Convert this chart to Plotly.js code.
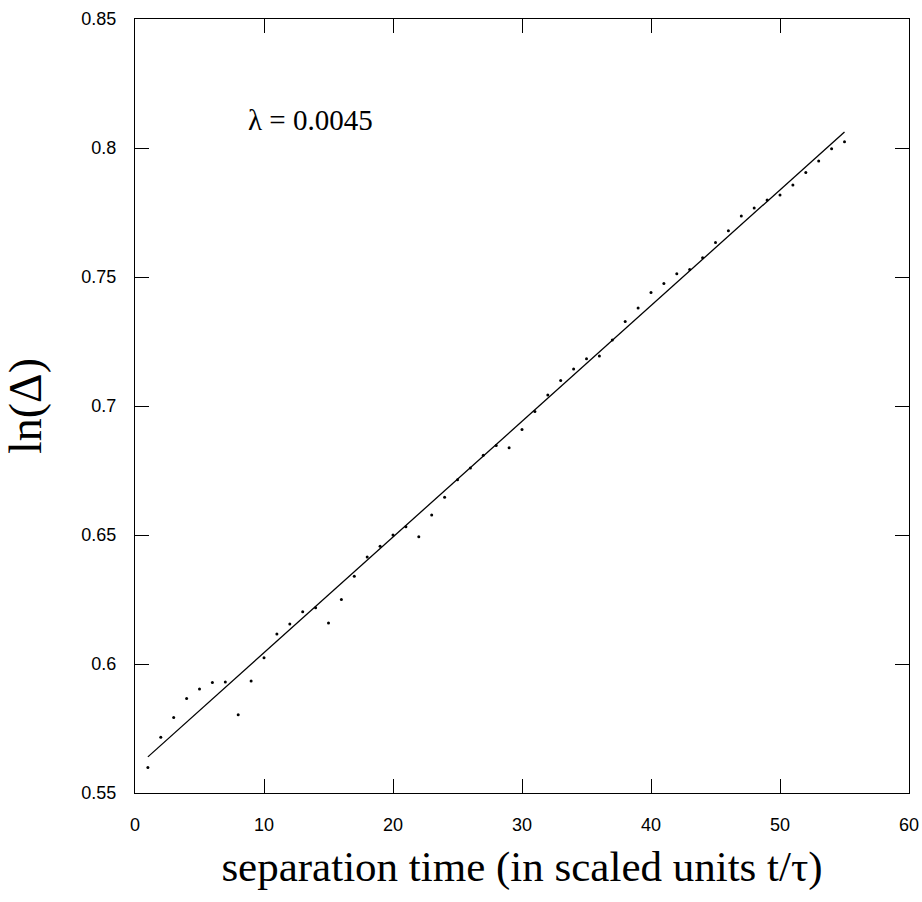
<!DOCTYPE html>
<html>
<head>
<meta charset="utf-8">
<script src="https://cdn.plot.ly/plotly-3.0.1.min.js"></script>
<style>html,body{margin:0;padding:0;background:#fff;}#chart{width:922px;height:902px;}</style>
</head>
<body>
<div id="chart"></div>
<script>
// separation time (t/tau)
const sepTime = [1,2,3,4,5,6,7,8,9,10,11,12,13,14,15,16,17,18,19,20,21,22,23,24,25,26,27,28,29,30,31,32,33,34,35,36,37,38,39,40,41,42,43,44,45,46,47,48,49,50,51,52,53,54,55];
// ln(Delta)
const lnDelta = [0.5599,0.5716,0.5793,0.5866,0.5903,0.5928,0.5930,0.5803,0.5934,0.6024,
                 0.6116,0.6155,0.6203,0.6218,0.6159,0.6250,0.6340,0.6415,0.6456,0.6500,
                 0.6532,0.6493,0.6578,0.6646,0.6714,0.6760,0.6809,0.6847,0.6838,0.6909,
                 0.6979,0.7043,0.7099,0.7143,0.7183,0.7194,0.7256,0.7328,0.7380,0.7440,
                 0.7475,0.7513,0.7529,0.7575,0.7634,0.7679,0.7736,0.7767,0.7798,0.7818,
                 0.7857,0.7905,0.7950,0.7997,0.8024];
// linear fit endpoints
const fitX = [1, 55];
const fitY = [0.5640, 0.8062];
const fitLabel = "λ = 0.0045";
const xTicks = [0,10,20,30,40,50,60];
const yTicks = [0.55,0.6,0.65,0.7,0.75,0.8,0.85];

const traces = [
  {x: sepTime, y: lnDelta, type: 'scatter', mode: 'markers',
   marker: {color: '#000', size: 3}, hoverinfo: 'x+y'},
  {x: fitX, y: fitY, type: 'scatter', mode: 'lines',
   line: {color: '#000', width: 1.3}}
];

const axisCommon = {
  showgrid: false, zeroline: false, showline: true, linecolor: '#000', linewidth: 1,
  mirror: 'ticks', ticks: 'inside', ticklen: 14, tickwidth: 1, tickcolor: '#000',
  tickfont: {family: 'Liberation Sans, Arial, sans-serif', size: 18, color: '#000'},
  automargin: false
};

const layout = {
  width: 922, height: 902,
  margin: {l: 135, r: 13, t: 19, b: 109},
  paper_bgcolor: '#fff', plot_bgcolor: '#fff',
  showlegend: false,
  xaxis: Object.assign({}, axisCommon, {
    range: [0, 60], tickvals: xTicks, ticktext: xTicks.map(String),
    ticklabelstandoff: 15,
    title: {text: 'separation time (in scaled units t/τ)', standoff: 17,
            font: {family: 'Liberation Serif, Times New Roman, serif', size: 43, color: '#000'}}
  }),
  yaxis: Object.assign({}, axisCommon, {
    range: [0.55, 0.85], tickvals: yTicks, ticktext: yTicks.map(String),
    ticklabelstandoff: 14,
    title: {text: 'ln(Δ)', standoff: 26,
            font: {family: 'Liberation Serif, Times New Roman, serif', size: 46, color: '#000'}}
  }),
  annotations: [{
    x: 8.63, y: 0.811, xref: 'x', yref: 'y', xanchor: 'left', yanchor: 'middle',
    text: fitLabel, showarrow: false,
    font: {family: 'Liberation Serif, Times New Roman, serif', size: 29, color: '#000'}
  }]
};

Plotly.newPlot('chart', traces, layout, {displayModeBar: false, staticPlot: true});
</script>
</body>
</html>
